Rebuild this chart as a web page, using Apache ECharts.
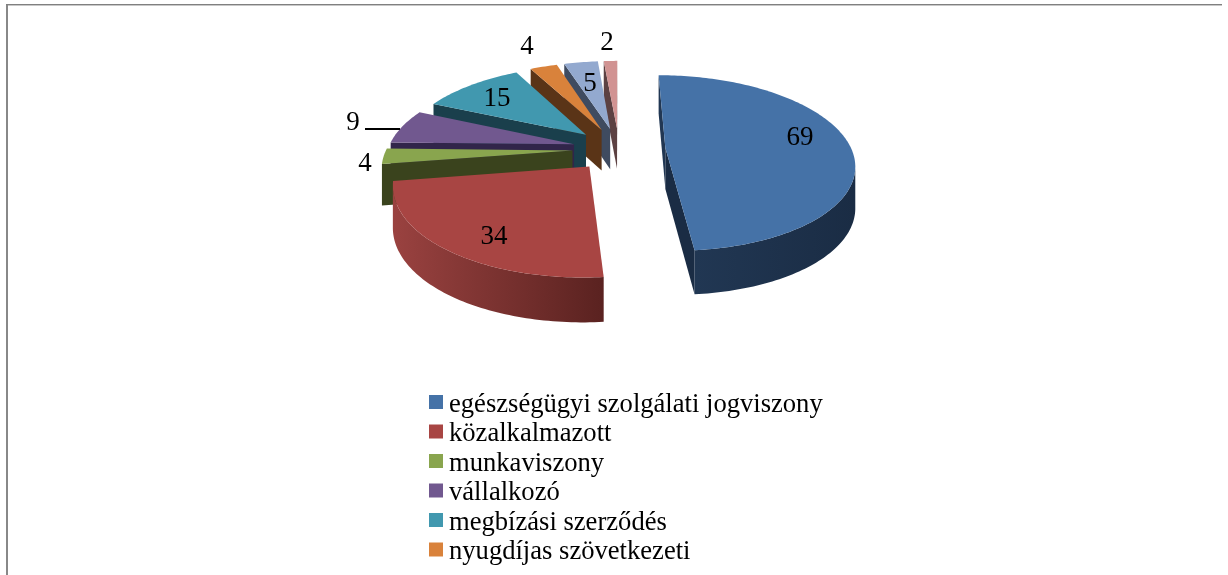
<!DOCTYPE html>
<html>
<head>
<meta charset="utf-8">
<style>
  html, body { margin: 0; padding: 0; background: #fff; }
  #chart { width: 1228px; height: 575px; }
</style>
<script src="https://cdn.jsdelivr.net/npm/echarts@6/dist/echarts.min.js"></script>
</head>
<body>
<div id="chart"></div>
<script>
// only six legend rows fit in the picture, the last two slices have no visible name
const categories = [
  'egészségügyi szolgálati jogviszony',
  'közalkalmazott',
  'munkaviszony',
  'vállalkozó',
  'megbízási szerződés',
  'nyugdíjas szövetkezeti',
]
const values = [69, 34, 4, 9, 15, 4, 5, 2]

const topColors = ['#4572a7', '#a84543', '#89a54e', '#71588f', '#4198af', '#d9823b', '#93a9cf', '#d19392']
const wallLeft = ['#213753', '#9a4240', '#3a431d', '#31254a', '#1a3f4c', '#5a3417', '#3f4b60', '#5c4142']
const wallRight = ['#1a2c44', '#5a2220', '#3a431d', '#31254a', '#1a3f4c', '#5a3417', '#3f4b60', '#5c4142']
const labelAnchors = [[800, 138], [494, 237], [365, 164], [353, 123], [497, 99], [527, 47], [590, 84], [607, 43]]

// pie projection, fitted on the picture
const CX = 619, CY = 149
const RX = 186, RY = 85.5
const PERSP = 0.17
const EXPLODE = 0.25
const WALL = 41

const total = values.reduce((a, b) => a + b, 0)
const TAU = Math.PI * 2

function project(x, y) {
  const s = 1 / (1 - PERSP * y)
  return { x: CX + RX * x * s, y: CY + RY * y * s, s }
}
function topPt(x, y) {
  const p = project(x, y)
  return [p.x, p.y]
}
function bottomPt(x, y) {
  const p = project(x, y)
  return [p.x, p.y + WALL * Math.pow(p.s, 0.4)]
}
// a wall is seen when its outward normal points to the camera
function facing(nx, ny, px, py) {
  return nx * (0 - px) + ny * (1 / PERSP - py) > 0
}

function poly(points, fill) {
  return { type: 'polygon', shape: { points }, style: { fill } }
}

function sliceShapes(index) {
  let before = 0
  for (let i = 0; i < index; i++) before += values[i]
  const a1 = before / total * TAU
  const a2 = (before + values[index]) / total * TAU
  const mid = (a1 + a2) / 2
  const ox = Math.sin(mid) * EXPLODE
  const oy = -Math.cos(mid) * EXPLODE
  const rim = (a) => [ox + Math.sin(a), oy - Math.cos(a)]

  const children = []
  const steps = Math.max(8, Math.ceil((a2 - a1) / 0.02))

  // flat cut faces
  const r1 = rim(a1), r2 = rim(a2)
  if (facing(-Math.cos(a1), -Math.sin(a1), ox, oy)) {
    children.push(poly([topPt(ox, oy), topPt(r1[0], r1[1]), bottomPt(r1[0], r1[1]), bottomPt(ox, oy)], wallLeft[index]))
  }
  if (facing(Math.cos(a2), Math.sin(a2), ox, oy)) {
    children.push(poly([topPt(ox, oy), topPt(r2[0], r2[1]), bottomPt(r2[0], r2[1]), bottomPt(ox, oy)], wallRight[index]))
  }

  // outer rim, visible part only
  const upper = [], lower = []
  for (let k = 0; k <= steps; k++) {
    const a = a1 + (a2 - a1) * k / steps
    const r = rim(a)
    if (facing(Math.sin(a), -Math.cos(a), r[0], r[1])) {
      upper.push(topPt(r[0], r[1]))
      lower.unshift(bottomPt(r[0], r[1]))
    }
  }
  if (upper.length > 1) {
    const pts = upper.concat(lower)
    const xs = pts.map((p) => p[0])
    const fill = new echarts.graphic.LinearGradient(
      Math.min(...xs), 0, Math.max(...xs), 0,
      [{ offset: 0, color: wallLeft[index] }, { offset: 1, color: wallRight[index] }],
      true
    )
    children.push(poly(pts, fill))
  }

  // top face
  const face = [topPt(ox, oy)]
  for (let k = 0; k <= steps; k++) {
    const r = rim(a1 + (a2 - a1) * k / steps)
    face.push(topPt(r[0], r[1]))
  }
  children.push(poly(face, topColors[index]))

  children.push({
    type: 'text',
    z2: 20,
    style: {
      text: String(values[index]),
      x: labelAnchors[index][0],
      y: labelAnchors[index][1],
      align: 'center',
      verticalAlign: 'middle',
      font: '27px "Liberation Serif"',
      fill: '#000',
    },
  })
  return children
}

const chart = echarts.init(document.getElementById('chart'))

chart.setOption({
  backgroundColor: '#fff',
  animation: false,
  color: topColors,
  legend: {
    orient: 'vertical',
    left: 429,
    top: 391.5,
    padding: 0,
    itemWidth: 14,
    itemHeight: 14,
    itemGap: 2.5,
    icon: 'rect',
    data: categories,
    formatter: '{t|{name}}',
    textStyle: {
      fontFamily: 'Liberation Serif',
      fontSize: 26.6,
      color: '#000',
      rich: {
        t: {
          fontFamily: 'Liberation Serif',
          fontSize: 26.6,
          color: '#000',
          padding: [6, 0, 0, 1],
        },
      },
    },
    selectedMode: false,
  },
  graphic: [
    { type: 'rect', shape: { x: 6, y: 4, width: 1216, height: 1 }, style: { fill: '#808080' }, silent: true },
    { type: 'rect', shape: { x: 6, y: 5, width: 1216, height: 1 }, style: { fill: '#c8c8c8' }, silent: true },
    { type: 'rect', shape: { x: 6, y: 5, width: 2, height: 570 }, style: { fill: '#888' }, silent: true },
    { type: 'line', shape: { x1: 365, y1: 129, x2: 400, y2: 129 }, style: { stroke: '#000', lineWidth: 2 }, silent: true, z: 60 },
  ],
  series: values.map((v, i) => ({
    type: 'custom',
    name: categories[i] || 'slice ' + (i + 1),
    coordinateSystem: 'none',
    silent: true,
    z: 30 - i * 2,
    itemStyle: { color: topColors[i] },
    data: [[v]],
    renderItem: () => ({ type: 'group', children: sliceShapes(i) }),
  })),
})

window.addEventListener('resize', () => chart.resize())
</script>
</body>
</html>
